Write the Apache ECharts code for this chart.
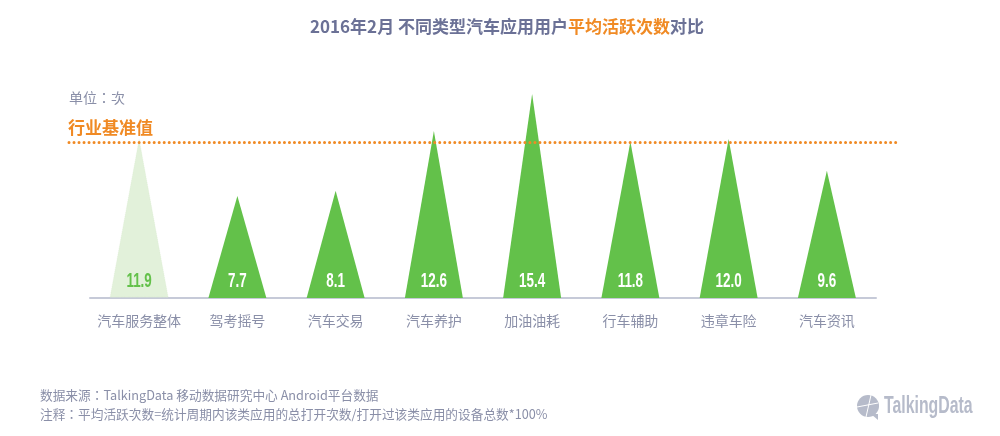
<!DOCTYPE html>
<html>
<head>
    <meta http-equiv="Content-Type" content="text/html; charset=utf-8"/>
    <script src="https://cdn.jsdelivr.net/npm/echarts@6/dist/echarts.min.js"></script>
    <style>
        html, body { margin: 0; padding: 0; background: #fff; }
    </style>
</head>
<body>

<div id="chart" style="width: 1000px; height: 436px;"></div>

<script type="text/javascript">
    var categories = ['汽车服务整体', '驾考摇号', '汽车交易', '汽车养护', '加油油耗', '行车辅助', '违章车险', '汽车资讯'];
    var activeCounts = [11.9, 7.7, 8.1, 12.6, 15.4, 11.8, 12.0, 9.6];
    var benchmarkValue = 11.75;

    var cjkFont = '"Noto Sans CJK SC", sans-serif';
    var colonFont = '"Noto Sans CJK TC", sans-serif'; // 冒号居中
    var latinFont = '"Liberation Sans", sans-serif';
    var textGrey = '#8a8fa8';
    var titleGrey = '#6b7196';
    var logoGrey = '#b6bbca';
    var orange = '#f08a24';
    var green = '#63c14a';

    var chart = echarts.init(document.getElementById('chart'));

    var barData = activeCounts.map(function (v, i) {
        // 第一个是整体，浅色虚线边
        if (i === 0) {
            return {
                value: v,
                itemStyle: {color: '#e2f1da', borderColor: '#cfe3c4', borderWidth: 1, borderType: 'dashed'}
            };
        }
        return v;
    });

    var labelData = activeCounts.map(function (v, i) {
        return [i, v];
    });

    // 数值是窄体字，没有窄字体可用，只能横向压缩
    function renderValueLabel(params, api) {
        var pt = api.coord([api.value(0), 0]);
        return {
            type: 'text',
            x: pt[0],
            y: pt[1] - 17,
            scaleX: 0.64,
            style: {
                text: api.value(1).toFixed(1),
                align: 'center',
                verticalAlign: 'middle',
                fontFamily: latinFont,
                fontWeight: 'bold',
                fontSize: 21,
                fill: params.dataIndex === 0 ? green : '#fff'
            }
        };
    }

    var option = {
        backgroundColor: '#fff',
        animation: false,
        title: {
            left: 502,
            top: 13,
            textAlign: 'center',
            text: '{a|2016年2月 不同类型汽车应用用户}{b|平均活跃次数}{a|对比}',
            textStyle: {
                rich: {
                    a: {fontFamily: cjkFont, fontSize: 17, fontWeight: 'bold', color: titleGrey},
                    b: {fontFamily: cjkFont, fontSize: 17, fontWeight: 'bold', color: orange}
                }
            }
        },
        grid: {left: 90, top: 94, width: 786, height: 204},
        xAxis: {
            type: 'category',
            data: categories,
            axisTick: {show: false},
            axisLine: {lineStyle: {color: '#c6cad8', width: 2}},
            axisLabel: {color: textGrey, fontFamily: cjkFont, fontSize: 14, margin: 16, interval: 0}
        },
        yAxis: {type: 'value', min: 0, max: 15.4, show: false},
        series: [{
            type: 'pictorialBar',
            symbol: 'triangle',
            symbolSize: ['100%', '100%'],
            barWidth: 58,
            data: barData,
            itemStyle: {color: green},
            markLine: {
                silent: true,
                clip: false,
                symbol: 'none',
                label: {show: false},
                lineStyle: {color: orange, type: [0.01, 5], width: 3, cap: 'round'},
                data: [[{x: 69, yAxis: benchmarkValue}, {x: 900, yAxis: benchmarkValue}]]
            }
        }, {
            type: 'custom',
            silent: true,
            data: labelData,
            encode: {x: 0, y: 1},
            renderItem: renderValueLabel,
            z: 5
        }],
        graphic: [
            {type: 'text', left: 69, top: 91, style: {text: '单位：次', fill: textGrey, font: '14px ' + colonFont}},
            {type: 'text', left: 68, top: 119, style: {text: '行业基准值', fill: orange, font: 'bold 17px ' + cjkFont}},
            {type: 'text', left: 40, top: 389, style: {text: '数据来源：TalkingData 移动数据研究中心 Android平台数据', fill: textGrey, font: '12.7px ' + colonFont}},
            {type: 'text', left: 40, top: 408, style: {text: '注释：平均活跃次数=统计周期内该类应用的总打开次数/打开过该类应用的设备总数*100%', fill: textGrey, font: '12.7px ' + colonFont}},
            // logo
            {type: 'circle', shape: {cx: 868, cy: 406, r: 11}, style: {fill: logoGrey}},
            {type: 'polygon', shape: {points: [[871, 414], [878, 414], [878, 420]]}, style: {fill: logoGrey}},
            {type: 'line', shape: {x1: 857, y1: 407, x2: 878, y2: 403}, style: {stroke: '#fff', lineWidth: 1}},
            {type: 'line', shape: {x1: 871, y1: 395, x2: 866, y2: 417}, style: {stroke: '#fff', lineWidth: 1}},
            {type: 'text', x: 884, y: 394, scaleX: 0.66, style: {text: 'TalkingData', fill: logoGrey, font: 'bold 24px ' + latinFont}}
        ]
    };

    chart.setOption(option);
</script>

</body>
</html>
